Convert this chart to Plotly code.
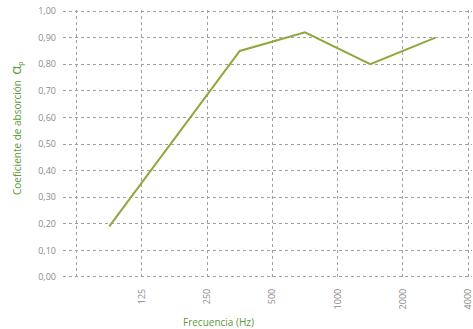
import plotly.graph_objects as go

# Data
frequencies = ["125", "250", "500", "1000", "2000", "4000"]
absorption = [0.19, 0.52, 0.85, 0.92, 0.80, 0.90]

# category positions (data sits half a band left of its frequency label)
x_pos = [i + 0.5 for i in range(len(frequencies))]
tick_vals = [i + 1 for i in range(len(frequencies))]
y_ticks = [round(i * 0.1, 1) for i in range(11)]
y_text = [f"{v:.2f}".replace(".", ",") for v in y_ticks]

green = "#5a9a3c"
line_col = "#8ea83c"
grid_col = "#a0a0a0"
tick_col = "#8a8a8a"

fig = go.Figure()
fig.add_trace(go.Scatter(x=x_pos, y=absorption, mode="lines",
                         line=dict(color=line_col, width=2), hoverinfo="skip"))

fig.update_layout(
    width=473, height=329,
    margin=dict(l=63, r=1, t=10, b=51, autoexpand=False),
    paper_bgcolor="white", plot_bgcolor="white",
    showlegend=False,
    font=dict(family="Open Sans", size=9, color=tick_col),
    xaxis=dict(range=[-0.21, 6.06], tickmode="array", tickvals=tick_vals, ticktext=frequencies,
               tickangle=-90, showgrid=True, gridcolor=grid_col, griddash="dot", gridwidth=1,
               minor=dict(showgrid=True, tick0=0, dtick=1, gridcolor=grid_col, griddash="dot",
                          gridwidth=1, ticks=""),
               zeroline=False, showline=False, ticks="", ticklabelstandoff=8, automargin=False,
               ticklabeloverflow="allow",
               tickfont=dict(size=9, color=tick_col)),
    yaxis=dict(range=[-0.004, 1.004], tickmode="array", tickvals=y_ticks, ticktext=y_text,
               showgrid=True, gridcolor=grid_col, griddash="dot", gridwidth=1,
               zeroline=False, showline=False, ticks="", ticklabelstandoff=6, automargin=False,
               tickfont=dict(size=9, color=tick_col)),
    annotations=[
        dict(text="Frecuencia (Hz)", xref="paper", yref="paper", x=(218 - 63) / 409, y=-(322 - 278) / 268,
             showarrow=False, font=dict(size=10, color=green), xanchor="center", yanchor="middle"),
        dict(text="Coeficiente de absorción  <span style='font-size:15px'>α</span><sub>p</sub>",
             xref="paper", yref="paper", x=-(63 - 15) / 409, y=(278 - 128) / 268,
             showarrow=False, textangle=-90, font=dict(size=10, color=green),
             xanchor="center", yanchor="middle"),
    ],
)

fig.write_html("out.html", config={"displayModeBar": False},
               post_script="document.body.style.margin='0';document.body.style.overflow='hidden';")
